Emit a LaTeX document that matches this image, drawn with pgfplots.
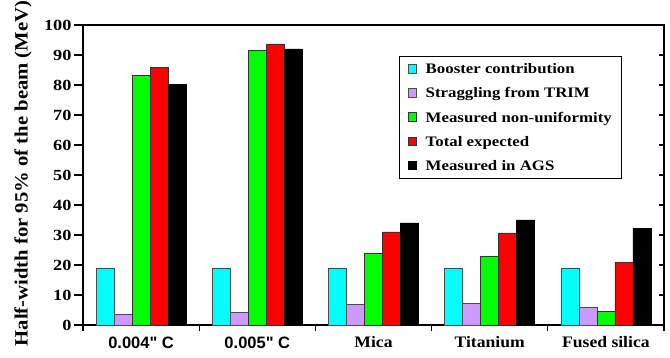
\documentclass[border=0pt]{standalone}
\usepackage{pgfplots}
\pgfplotsset{compat=1.18}
\usepackage{fontspec}
\setmainfont{Liberation Serif}
\newfontfamily\arialfont{Liberation Sans}
\newfontfamily\widefont[FakeStretch=1.18]{Liberation Serif}
\newfontfamily\legfont[FakeStretch=1.16]{Liberation Serif}
\newfontfamily\xfont[FakeStretch=1.1]{Liberation Serif}
\newfontfamily\ylabfont[FakeStretch=1.1]{Liberation Serif}
\definecolor{cCyan}{RGB}{0,255,255}
\definecolor{cPurp}{RGB}{204,153,255}
\definecolor{cGreen}{RGB}{0,255,0}
\definecolor{cRed}{RGB}{255,0,0}
\pgfplotstableread{
x booster strag nonunif total ags
0 19 3.7 83.3 85.8 80.1
1 19 4.1 91.6 93.7 92.0
2 19 6.8 24.0 31.0 34.0
3 19 7.1 22.9 30.7 35.0
4 19 6.0 4.5 20.8 32.3
}\data
\pgfplotsset{base/.style={scale only axis, width=581pt, height=300pt,
  xmin=-0.5, xmax=4.5, ymin=0, ymax=100}}
\begin{document}
\begin{tikzpicture}
\begin{axis}[base,
  /pgf/number format/assume math mode=true,
  axis line style={line width=1.3pt},
  tick style={black, line width=1.3pt},
  xtick=\empty,
  ytick={0,10,...,100},
  tick pos=left,
  tick align=outside,
  major tick length=9pt,
  y tick label style={font=\widefont\fontsize{15.5}{17}\selectfont\bfseries, xshift=1pt},
  ylabel={Half-width for 95\% of the beam (MeV)},
  every axis y label/.style={at={(axis description cs:-0.1033,0.505)}, rotate=90, anchor=center,
    font=\ylabfont\fontsize{18.8}{20}\selectfont\bfseries},
  legend cell align=left,
  legend style={at={(0.544,0.897)}, anchor=north west,
    draw=black, line width=1.3pt,
    font=\legfont\fontsize{14.5}{16}\selectfont\bfseries,
    inner xsep=8pt, inner ysep=5pt,
    row sep=8.5pt,
    /tikz/every odd column/.append style={column sep=7pt}},
  legend image code/.code={\draw[#1, line width=0.5pt] (6pt,-3.5pt) rectangle (14.5pt,5pt);},
  clip=false,
]
\addplot[ybar, bar width=18pt, bar shift=-36pt, fill=cCyan, draw=black!70, line width=0.6pt] table[x=x,y=booster]{\data};
\addplot[ybar, bar width=18pt, bar shift=-18pt, fill=cPurp, draw=black!70, line width=0.6pt] table[x=x,y=strag]{\data};
\addplot[ybar, bar width=18pt, bar shift=0pt, fill=cGreen, draw=black!80, line width=0.6pt] table[x=x,y=nonunif]{\data};
\addplot[ybar, bar width=18pt, bar shift=18pt, fill=cRed, draw=black!80, line width=0.6pt] table[x=x,y=total]{\data};
\addplot[ybar, bar width=18pt, bar shift=36pt, fill=black, draw=black, line width=0.6pt] table[x=x,y=ags]{\data};
\legend{Booster contribution, Straggling from TRIM, Measured non-uniformity, Total expected, Measured in AGS}
\end{axis}
\begin{axis}[base,
  hide y axis, axis x line*=bottom, x axis line style={opacity=0},
  xtick={0,1,2,3,4},
  xticklabels={{\arialfont\fontsize{16.5}{18}\selectfont\bfseries 0.004" C},{\arialfont\fontsize{16.5}{18}\selectfont\bfseries 0.005" C},Mica,Titanium,Fused silica},
  x tick label style={font=\xfont\fontsize{16}{18}\selectfont\bfseries, yshift=-8pt},
  major tick length=0pt, tick style={opacity=0},
]
\end{axis}
\begin{scope}[line width=1.3pt, draw=black, opacity=1]
\foreach \k in {0,...,10}{\draw (0pt,{30*\k pt}) -- (-9pt,{30*\k pt});}
\foreach \k in {1,...,9}{\draw (581pt,{30*\k pt}) -- (576pt,{30*\k pt});}
\foreach \k in {0,...,5}{\draw ({116.2*\k pt},0pt) -- ({116.2*\k pt},-6pt);}
\end{scope}
\pgfresetboundingbox
\path (-83pt,-33pt) rectangle (587pt,325pt);
\end{tikzpicture}
\end{document}
